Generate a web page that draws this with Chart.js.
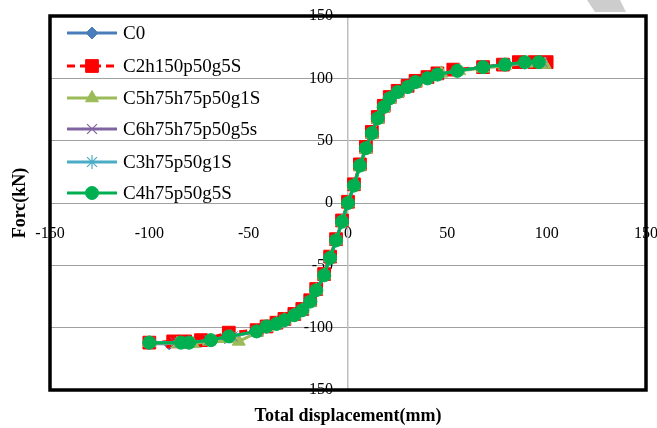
<!DOCTYPE html>
<html>
<head>
<meta charset="utf-8">
<script src="https://cdn.jsdelivr.net/npm/chart.js@4.4.1/dist/chart.umd.min.js"></script>
<style>
  html, body { margin: 0; padding: 0; background: #fff; }
  #wrap { width: 657px; height: 428px; }
</style>
</head>
<body>
<div id="wrap"><canvas id="chart"></canvas></div>
<script>
// specimen names, in legend order
const seriesNames = ['C0', 'C2h150p50g5S', 'C5h75h75p50g1S', 'C6h75h75p50g5s', 'C3h75p50g1S', 'C4h75p50g5S'];

// total displacement (mm) and force (kN) per specimen
const c0Disp  = [-100, -90, -82, -74, -62, -47, -41, -36, -32, -27, -23, -19, -16, -12, -9, -6, -3, 0, 3, 6, 9, 12, 15, 18, 21, 25, 30, 34, 40, 45, 55, 68, 79, 89, 97];
const c0Force = [-113, -113, -112, -111, -108, -103, -100, -97, -94, -90, -86, -79, -70, -58, -44, -30, -15, 0, 14, 30, 44, 56, 68, 77, 84, 89, 93, 97, 100, 103, 106, 109, 111, 112, 113];

const c2Disp  = [-100, -88, -82, -74, -60, -46, -41, -36, -32, -27, -23, -19, -16, -12, -9, -6, -3, 0, 3, 6, 9, 12, 15, 18, 21, 25, 30, 34, 40, 45, 53, 68, 78, 86, 94, 100];
const c2Force = [-112, -111, -111, -110, -104, -102, -99, -96, -93, -89, -85, -78, -69, -57, -43, -29, -14, 1, 15, 31, 45, 57, 69, 78, 85, 90, 94, 98, 101, 104, 107, 109, 111, 113, 113, 113];

const c5Disp  = [-100, -86, -78, -70, -55, -46, -41, -36, -32, -27, -23, -19, -16, -12, -9, -6, -3, 0, 3, 6, 9, 12, 15, 18, 21, 25, 29, 34, 39, 47, 56, 68, 79, 90, 99];
const c5Force = [-112, -113, -113, -111, -111, -104, -100, -97, -94, -90, -86, -80, -70, -58, -44, -30, -15, 0, 14, 29, 43, 55, 67, 76, 83, 88, 92, 96, 99, 104, 106, 108, 110, 112, 111];

const c6Disp  = [-100, -87, -80, -70, -58, -46, -41, -36, -32, -27, -23, -19, -16, -12, -9, -6, -3, 0, 3, 6, 9, 12, 15, 18, 21, 25, 30, 34, 40, 45, 55, 68, 79, 89, 98];
const c6Force = [-112, -112, -112, -110, -107, -103, -99, -97, -94, -90, -86, -79, -70, -58, -44, -30, -15, 0, 14, 30, 44, 56, 68, 77, 84, 89, 93, 97, 100, 103, 106, 109, 111, 112, 113];

const c3Disp  = [-100, -85, -80, -69, -59, -46, -41, -36, -32, -27, -23, -19, -16, -12, -9, -6, -3, 0, 3, 6, 9, 12, 15, 18, 21, 25, 30, 34, 40, 45, 55, 68, 79, 89, 97];
const c3Force = [-112, -112, -112, -110, -107, -103, -99, -97, -94, -90, -86, -79, -70, -58, -44, -30, -15, 0, 14, 30, 44, 56, 68, 77, 84, 89, 93, 97, 100, 103, 106, 109, 111, 113, 113];

const c4Disp  = [-100, -84, -80, -69, -60, -46, -41, -36, -32, -27, -23, -19, -16, -12, -9, -6, -3, 0, 3, 6, 9, 12, 15, 18, 21, 25, 30, 34, 40, 45, 55, 68, 79, 89, 96];
const c4Force = [-112, -112, -112, -110, -107, -103, -99, -97, -94, -90, -86, -79, -70, -58, -44, -30, -15, 0, 14, 30, 44, 56, 68, 77, 84, 89, 93, 97, 100, 103, 106, 109, 111, 113, 113];

// axis ticks
const axisTicks = [-150, -100, -50, 0, 50, 100, 150];

const xTitle = 'Total displacement(mm)';
const yTitle = 'Forc(kN)';

const toPoints = (xs, ys) => xs.map((x, i) => ({ x: x, y: ys[i] }));

const seriesStyle = [
  { color: '#4A7EBB', point: 'rectRot',  radius: 6,   dash: [] },
  { color: '#FF0000', point: 'rect',     radius: 9,   dash: [8, 5] },
  { color: '#9BBB59', point: 'triangle', radius: 7.5, dash: [] },
  { color: '#8064A2', point: 'crossRot', radius: 7,   dash: [] },
  { color: '#4BACC6', point: 'star',     radius: 7,   dash: [] },
  { color: '#00B050', point: 'circle',   radius: 6.5, dash: [] }
];

const seriesData = [
  toPoints(c0Disp, c0Force),
  toPoints(c2Disp, c2Force),
  toPoints(c5Disp, c5Force),
  toPoints(c6Disp, c6Force),
  toPoints(c3Disp, c3Force),
  toPoints(c4Disp, c4Force)
];

const datasets = seriesNames.map((name, i) => {
  const s = seriesStyle[i];
  return {
    label: name,
    data: seriesData[i],
    borderColor: s.color,
    backgroundColor: s.color,
    borderWidth: 3,
    borderDash: s.dash,
    pointStyle: s.point,
    pointRadius: s.radius,
    pointBorderWidth: 1,
    pointBackgroundColor: s.color,
    pointBorderColor: s.color,
    showLine: true,
    tension: 0,
    // last specimen ends up on top
    order: seriesNames.length - i
  };
});

const serif = "'Liberation Serif', 'Times New Roman', serif";

// centred axes should not eat into the plot
const noOverflow = (scale) => {
  scale.paddingLeft = 0;
  scale.paddingRight = 0;
  scale.paddingTop = 0;
  scale.paddingBottom = 0;
};

// vertical legend in the upper left of the plot
const legendInside = {
  id: 'legendInside',
  afterDraw(chart) {
    const ctx = chart.ctx;
    const x0 = 67, x1 = 117, textX = 123;
    const rowY = [33, 66, 98, 129, 162, 193];
    seriesNames.forEach((name, i) => {
      const s = seriesStyle[i];
      const y = rowY[i];
      ctx.save();
      ctx.strokeStyle = s.color;
      ctx.lineWidth = 3;
      ctx.setLineDash(s.dash);
      ctx.beginPath();
      ctx.moveTo(x0, y);
      ctx.lineTo(x1, y);
      ctx.stroke();
      ctx.setLineDash([]);
      ctx.fillStyle = s.color;
      ctx.lineWidth = s.point === 'crossRot' || s.point === 'star' ? 1.2 : 1;
      Chart.helpers.drawPoint(ctx, {
        pointStyle: s.point,
        radius: s.radius,
        rotation: 0,
        borderWidth: ctx.lineWidth
      }, (x0 + x1) / 2, y);
      ctx.fillStyle = '#000';
      ctx.font = '19px ' + serif;
      ctx.textBaseline = 'middle';
      ctx.textAlign = 'left';
      ctx.fillText(name, textX, y + 1);
      ctx.restore();
    });
  }
};

// heavy frame round the plot and the two axis titles
const frameAndTitles = {
  id: 'frameAndTitles',
  afterDraw(chart) {
    const { ctx, chartArea: a } = chart;
    ctx.save();
    ctx.strokeStyle = '#000';
    ctx.lineWidth = 3.5;
    ctx.strokeRect(a.left, a.top, a.right - a.left, a.bottom - a.top);

    ctx.fillStyle = '#000';
    ctx.font = 'bold 18px ' + serif;
    ctx.textAlign = 'center';
    ctx.textBaseline = 'middle';
    ctx.fillText(xTitle, 348, 416);

    ctx.translate(20, 203);
    ctx.rotate(-Math.PI / 2);
    ctx.fillText(yTitle, 0, 0);
    ctx.restore();

    // grey corner mark above the frame
    ctx.save();
    ctx.fillStyle = '#CDCDCD';
    ctx.beginPath();
    ctx.moveTo(587, 0);
    ctx.lineTo(620, 0);
    ctx.lineTo(626, 12);
    ctx.lineTo(595, 12);
    ctx.closePath();
    ctx.fill();
    ctx.restore();
  }
};

new Chart(document.getElementById('chart'), {
  type: 'scatter',
  data: { datasets: datasets },
  options: {
    responsive: true,
    maintainAspectRatio: false,
    animation: false,
    layout: { padding: { left: 50, right: 11, top: 16, bottom: 38 } },
    plugins: {
      legend: { display: false },
      tooltip: { enabled: false }
    },
    scales: {
      x: {
        type: 'linear',
        position: 'center',
        min: -150,
        max: 150,
        afterBuildTicks: (scale) => { scale.ticks = axisTicks.map(v => ({ value: v })); },
        afterFit: noOverflow,
        grid: { display: false, drawTicks: false },
        border: { display: false },
        ticks: {
          padding: 21,
          color: '#000',
          font: { family: serif, size: 16 },
          maxRotation: 0,
          autoSkip: false
        }
      },
      y: {
        type: 'linear',
        position: 'center',
        min: -150,
        max: 150,
        afterBuildTicks: (scale) => { scale.ticks = axisTicks.map(v => ({ value: v })); },
        afterFit: noOverflow,
        grid: { color: '#A0A0A0', lineWidth: 1, drawTicks: false },
        border: { display: true, color: '#BFBFBF', width: 1.5 },
        ticks: {
          padding: 15,
          color: '#000',
          font: { family: serif, size: 16 },
          autoSkip: false
        }
      }
    }
  },
  plugins: [legendInside, frameAndTitles]
});
</script>
</body>
</html>
